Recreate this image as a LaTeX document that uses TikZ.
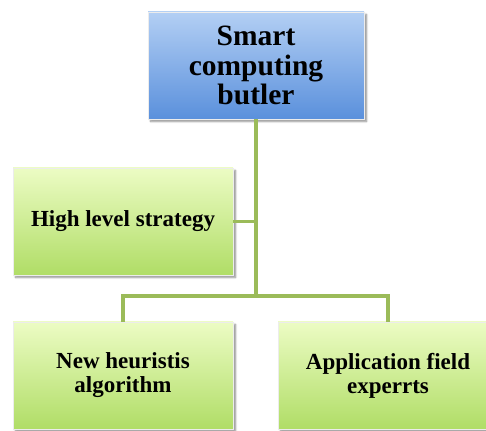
\documentclass[tikz,border=0pt]{standalone}
\usepackage{fontspec}
\setmainfont{Liberation Serif}
\usetikzlibrary{positioning,shadows.blur}
\definecolor{linkgreen}{HTML}{9BBB59}
\definecolor{bluetop}{HTML}{B3CFF4}
\definecolor{bluebot}{HTML}{5A90DC}
\definecolor{greentop}{HTML}{ECFCC4}
\definecolor{greenbot}{HTML}{B0DD66}
\tikzset{
  box/.style={rectangle, minimum height=107pt, align=center, inner sep=0pt,
    draw=white!85!gray, line width=0.8pt,
    blur shadow={shadow xshift=2.5pt, shadow yshift=-2.5pt, shadow blur steps=6, shadow opacity=45}},
  rootbox/.style={box, minimum width=216pt, top color=bluetop, bottom color=bluebot,
    font=\fontsize{29.5}{29.5}\selectfont\bfseries},
  leafbox/.style={box, minimum width=220pt, top color=greentop, bottom color=greenbot,
    font=\fontsize{23}{24}\selectfont\bfseries},
  link/.style={draw=linkgreen, line width=3.2pt}
}
\begin{document}
\begin{tikzpicture}[x=1pt,y=1pt]
\useasboundingbox (0,0) rectangle (486,430);
\clip (0,0) rectangle (486,430);
\node[rootbox] (butler) at (256,364.5) {Smart\\computing\\butler};
\node[leafbox] (strategy) at (123,208.5) {High level strategy};
\node[leafbox] (heuristic) at (123,54.5) {New heuristis\\algorithm};
\node[leafbox] (experts) at (388,54.5) {Application field\\experrts};
\coordinate (bus) at (butler.south |- 0,134);
\coordinate (side) at (butler.south |- strategy.east);
% tree connectors
\draw[link] (butler.south) -- (bus);
\draw[link] (strategy.east) -- (side);
\draw[link] (heuristic.north) |- (bus) -| (experts.north);
\end{tikzpicture}
\end{document}
